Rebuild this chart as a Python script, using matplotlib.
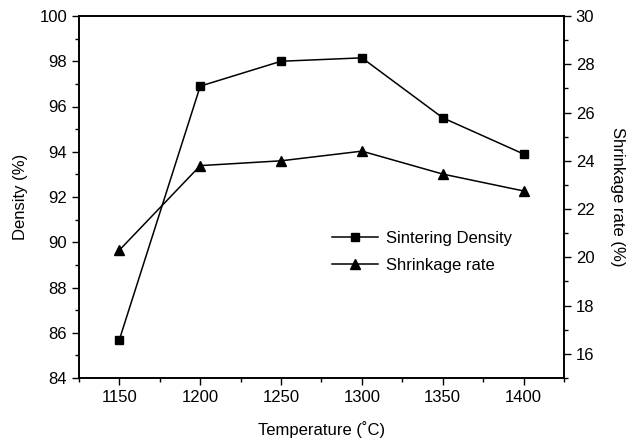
import matplotlib
matplotlib.use("Agg")
import matplotlib.pyplot as plt
from matplotlib.ticker import MultipleLocator
from matplotlib.lines import Line2D

plt.rcParams['font.family'] = ['Liberation Sans', 'DejaVu Sans']

temperature = [1150, 1200, 1250, 1300, 1350, 1400]
density = [85.7, 96.9, 98.0, 98.15, 95.5, 93.9]
shrinkage = [20.3, 23.8, 24.0, 24.4, 23.45, 22.75]

fig = plt.figure(figsize=(6.28, 4.46), dpi=100)
ax = fig.add_axes([79/628, 1-378/446, (564-79)/628, (378-16)/446])
ax2 = ax.twinx()

ax.plot(temperature, density, color='black', lw=1.1, marker='s', ms=5.5)
ax2.plot(temperature, shrinkage, color='black', lw=1.1, marker='^', ms=7)

ax.set_xlim(1125, 1425)
ax.set_ylim(84, 100)
ax2.set_ylim(15, 30)

ax.xaxis.set_major_locator(MultipleLocator(50))
ax.xaxis.set_minor_locator(MultipleLocator(25))
ax.yaxis.set_major_locator(MultipleLocator(2))
ax.yaxis.set_minor_locator(MultipleLocator(1))
ax2.set_yticks([16, 18, 20, 22, 24, 26, 28, 30])
ax2.yaxis.set_minor_locator(MultipleLocator(1))

for a in (ax, ax2):
    a.tick_params(which='major', direction='out', length=5, width=1, labelsize=12)
    a.tick_params(which='minor', direction='out', length=3, width=1)
    for s in a.spines.values():
        s.set_linewidth(1.2)

ax.set_xlabel('Temperature (\u02daC)', fontsize=12, labelpad=12)
ax.set_ylabel('Density (%)', fontsize=12, labelpad=8)
ax2.set_ylabel('Shrinkage rate (%)', fontsize=12, rotation=-90, labelpad=22)

handles = [Line2D([], [], color='black', lw=1.1, marker='s', ms=5.5),
           Line2D([], [], color='black', lw=1.1, marker='^', ms=7)]
ax2.legend(handles, ['Sintering Density', 'Shrinkage rate'], loc='upper left',
           bbox_to_anchor=(0.49, 0.447), frameon=False, fontsize=12,
           handlelength=2.8, handletextpad=0.45, labelspacing=0.7)

fig.savefig('out.png', dpi=100)
